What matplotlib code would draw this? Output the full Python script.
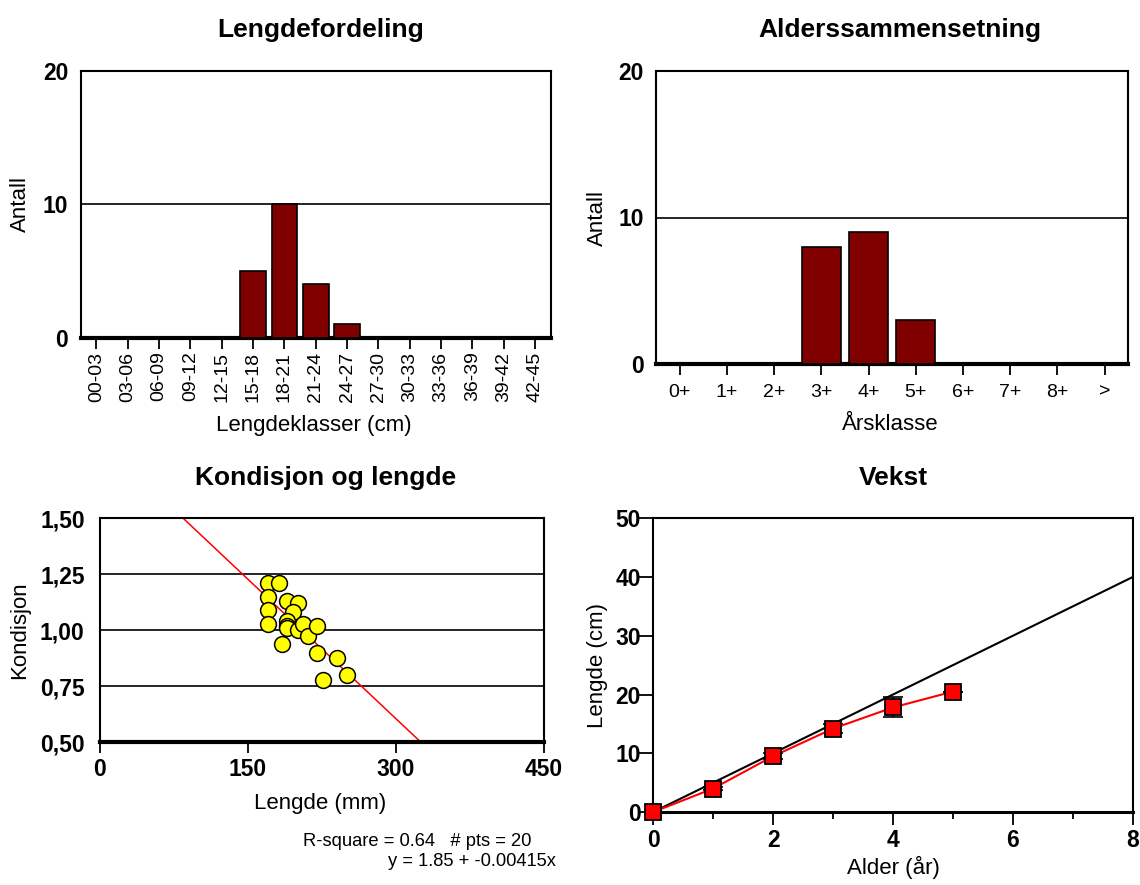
import matplotlib
matplotlib.use("Agg")
import matplotlib.pyplot as plt
from matplotlib.ticker import FixedLocator, MultipleLocator
import numpy as np

plt.rcParams['font.family'] = ['Liberation Sans', 'DejaVu Sans']

# ---------------- data ----------------
len_classes = ["00-03", "03-06", "06-09", "09-12", "12-15", "15-18", "18-21",
               "21-24", "24-27", "27-30", "30-33", "33-36", "36-39", "39-42", "42-45"]
len_counts = [0, 0, 0, 0, 0, 5, 10, 4, 1, 0, 0, 0, 0, 0, 0]

age_classes = ["0+", "1+", "2+", "3+", "4+", "5+", "6+", "7+", "8+", ">"]
age_counts = [0, 0, 0, 8, 9, 3, 0, 0, 0, 0]

cond_length_mm = [170, 181, 170, 170, 170, 190, 201, 196, 190, 190,
                  190, 201, 206, 211, 220, 184, 220, 240, 250, 226]
cond_k = [1.21, 1.21, 1.15, 1.09, 1.03, 1.13, 1.12, 1.08, 1.04, 1.02,
          1.01, 1.00, 1.03, 0.975, 1.02, 0.94, 0.90, 0.875, 0.80, 0.78]
fit_intercept = 1.85
fit_slope = -0.00415
r_square = 0.64

growth_age = [0, 1, 2, 3, 4, 5]
growth_len = [0.0, 4.0, 9.5, 14.2, 17.8, 20.5]
growth_err = [0.0, 0.3, 0.5, 0.8, 1.7, 0.0]
ref_age = [0, 1, 2, 3, 4, 5, 6, 7, 8]
ref_len = [0, 5, 10, 15, 20, 25, 30, 35, 40]

# ---------------- layout ----------------
W, H = 1140, 885
fig = plt.figure(figsize=(W / 100, H / 100), dpi=100)


def box(l, t, r, b):
    return [l / W, 1 - b / H, (r - l) / W, (b - t) / H]


BAR = "#800000"
TITLE_FS = 19
BOLD_FS = 16.5
TICK_FS = 14
LAB_FS = 16
NOTE_FS = 13.2


def fig_text(x, y, s, **kw):
    fig.text(x / W, 1 - y / H, s, **kw)


def style_hist(ax, labels, rot):
    ax.set_ylim(0, 20)
    ax.set_xlim(-0.5, len(labels) - 0.5)
    ax.set_yticks([0, 10, 20])
    ax.set_yticklabels(["0", "10", "20"], fontweight="bold", fontsize=BOLD_FS)
    ax.tick_params(axis="y", length=0, pad=9)
    ax.set_xticks(range(len(labels)))
    ax.set_xticklabels(labels, rotation=rot, fontsize=TICK_FS)
    ax.tick_params(axis="x", length=8, width=1.3, pad=2)
    ax.yaxis.grid(True, color="black", lw=1.2)
    ax.set_axisbelow(True)
    for s in ["top", "left", "right"]:
        ax.spines[s].set_linewidth(1.5)
    ax.spines["bottom"].set_linewidth(3)


# ---- Lengdefordeling ----
ax1 = fig.add_axes(box(80.7, 70.7, 550.7, 337.7))
ax1.bar(range(len(len_classes)), len_counts, width=0.82, color=BAR,
        edgecolor="black", lw=1.2, zorder=3)
style_hist(ax1, len_classes, 90)
fig_text(321, 30, "Lengdefordeling", ha="center", va="center",
         fontsize=TITLE_FS, fontweight="bold")
fig_text(20, 204, "Antall", ha="center", va="center", rotation=90, fontsize=LAB_FS)
fig_text(314, 425, "Lengdeklasser (cm)", ha="center", va="center", fontsize=LAB_FS)

# ---- Alderssammensetning ----
ax2 = fig.add_axes(box(656, 70.7, 1128.3, 364.3))
ax2.bar(range(len(age_classes)), age_counts, width=0.82, color=BAR,
        edgecolor="black", lw=1.2, zorder=3)
style_hist(ax2, age_classes, 0)
ax2.tick_params(axis="x", pad=6)
fig_text(900, 30, "Alderssammensetning", ha="center", va="center",
         fontsize=TITLE_FS, fontweight="bold")
fig_text(597, 218, "Antall", ha="center", va="center", rotation=90, fontsize=LAB_FS)
fig_text(890, 424, "Årsklasse", ha="center", va="center", fontsize=LAB_FS)

# ---- Kondisjon og lengde ----
ax3 = fig.add_axes(box(100, 518.3, 544, 742.3))
ax3.set_xlim(0, 450)
ax3.set_ylim(0.5, 1.5)
xs = np.array([0, 450])
ax3.plot(xs, fit_intercept + fit_slope * xs, color="red", lw=1.1, zorder=2)
ax3.scatter(cond_length_mm, cond_k, s=130, color="yellow", edgecolor="black",
            lw=1.1, zorder=3)
ax3.set_xticks([0, 150, 300, 450])
ax3.set_xticklabels(["0", "150", "300", "450"], fontweight="bold", fontsize=BOLD_FS)
ax3.tick_params(axis="x", length=8, width=1.3, pad=3)
ax3.set_yticks([0.5, 0.75, 1.0, 1.25, 1.5])
ax3.set_yticklabels(["0,50", "0,75", "1,00", "1,25", "1,50"],
                    fontweight="bold", fontsize=BOLD_FS)
ax3.tick_params(axis="y", length=0, pad=11)
ax3.yaxis.grid(True, color="black", lw=1.2)
ax3.set_axisbelow(True)
for s in ["top", "left", "right"]:
    ax3.spines[s].set_linewidth(1.5)
ax3.spines["bottom"].set_linewidth(3)
fig_text(326, 478, "Kondisjon og lengde", ha="center", va="center",
         fontsize=TITLE_FS, fontweight="bold")
fig_text(20, 630, "Kondisjon", ha="center", va="center", rotation=90, fontsize=LAB_FS)
fig_text(320, 803, "Lengde (mm)", ha="center", va="center", fontsize=LAB_FS)
fig_text(531, 841, f"R-square = {r_square:.2f}   # pts = {len(cond_k)}",
         ha="right", va="center", fontsize=NOTE_FS)
fig_text(556, 862, f"y = {fit_intercept:.2f} + {fit_slope:.5f}x",
         ha="right", va="center", fontsize=NOTE_FS)

# ---- Vekst ----
ax4 = fig.add_axes(box(653.3, 518.3, 1132.7, 812))
ax4.set_xlim(0, 8)
ax4.set_ylim(0, 50)
ax4.plot(ref_age, ref_len, color="black", lw=1.5, zorder=2)
ax4.errorbar(growth_age, growth_len, yerr=growth_err, fmt="none",
             ecolor="black", elinewidth=1.2, capsize=7, capthick=1.2, zorder=3)
ax4.plot(growth_age, growth_len, color="red", lw=1.5, marker="s", ms=11,
         mfc="red", mec="black", mew=1.3, zorder=4, clip_on=False)
ax4.xaxis.set_major_locator(FixedLocator([0, 2, 4, 6, 8]))
ax4.xaxis.set_minor_locator(MultipleLocator(1))
ax4.set_xticklabels(["0", "2", "4", "6", "8"], fontweight="bold", fontsize=BOLD_FS)
ax4.tick_params(axis="x", which="major", length=9, width=1.3, pad=3)
ax4.tick_params(axis="x", which="minor", length=5, width=1.3)
ax4.set_yticks([0, 10, 20, 30, 40, 50])
ax4.set_yticklabels(["0", "10", "20", "30", "40", "50"],
                    fontweight="bold", fontsize=BOLD_FS)
ax4.tick_params(axis="y", length=10, width=1.3, pad=-1)
for s in ["top", "left", "right"]:
    ax4.spines[s].set_linewidth(1.5)
ax4.spines["bottom"].set_linewidth(2.2)
fig_text(893, 478, "Vekst", ha="center", va="center",
         fontsize=TITLE_FS, fontweight="bold")
fig_text(597, 665, "Lengde (cm)", ha="center", va="center", rotation=90, fontsize=LAB_FS)
fig_text(893, 867, "Alder (år)", ha="center", va="center", fontsize=LAB_FS)

fig.savefig("out.png", dpi=100)
